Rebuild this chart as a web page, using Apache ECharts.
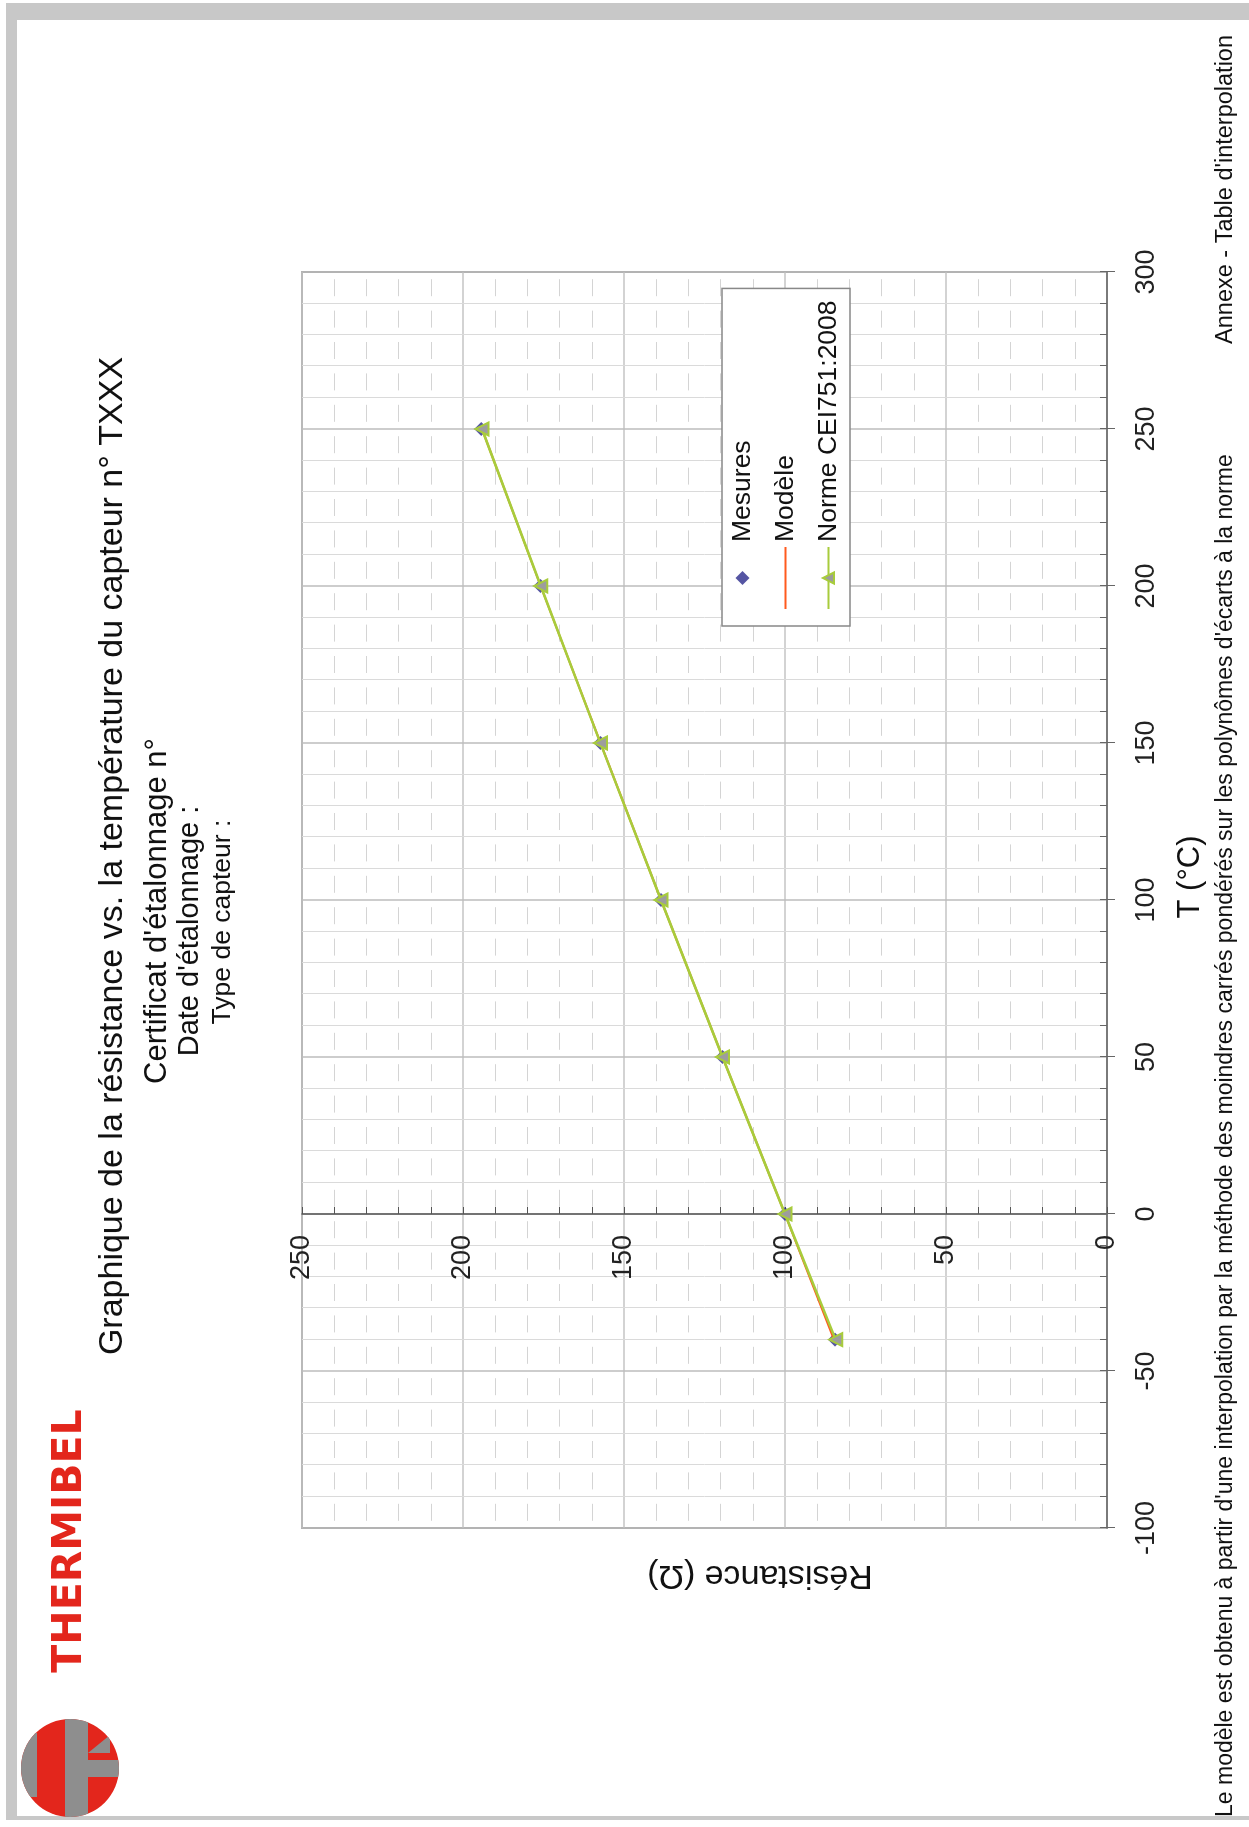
<!DOCTYPE html>
<html>
<head>
<meta charset="utf-8">
<script src="https://cdn.jsdelivr.net/npm/echarts@6/dist/echarts.min.js"></script>
<style>
html,body{margin:0;padding:0;background:#fff;}
body{width:1249px;height:1827px;overflow:hidden;position:relative;}
#chart{position:absolute;left:0;top:0;width:1827px;height:1249px;transform-origin:0 0;transform:translate(0px,1827px) rotate(-90deg);}
.band{position:absolute;background:#c8c8c8;z-index:5;}
#logo{position:absolute;left:0;top:1700px;z-index:6;}
</style>
</head>
<body>
<div id="chart"></div>
<div class="band" style="left:6px;top:3px;width:1243px;height:17px;"></div>
<div class="band" style="left:6px;top:3px;width:11px;height:1817px;"></div>
<div class="band" style="left:6px;top:1816px;width:1243px;height:4px;"></div>
<svg id="logo" width="140" height="127" viewBox="0 1700 140 127">
  <defs><clipPath id="cc"><circle cx="70" cy="1768" r="49"/></clipPath></defs>
  <circle cx="70" cy="1768" r="49" fill="#e3261c"/>
  <g clip-path="url(#cc)" fill="#8e8e8e">
    <rect x="18" y="1733" width="19" height="64"/>
    <rect x="65" y="1715" width="23" height="106"/>
    <rect x="88" y="1760" width="35" height="17"/>
    <polygon points="88,1753 110,1735 110,1753"/>
  </g>
</svg>
<script>
// ---- data ----
const temperatures = [-40, 0, 50, 100, 150, 200, 250];
const mesures      = [84.5, 100.0, 119.4, 138.5, 157.3, 175.9, 194.3];
const modele       = [84.8, 100.0, 119.4, 138.5, 157.3, 175.9, 194.1];
const norme        = [84.27, 100.0, 119.40, 138.51, 157.33, 175.86, 194.10];
const tempTicks = [-100, -50, 0, 50, 100, 150, 200, 250, 300];
const resTicks  = [0, 50, 100, 150, 200, 250];
const seriesNames = ['Mesures', 'Modèle', 'Norme CEI751:2008'];

const FONT = 'Liberation Sans, Arial, sans-serif';
const pairs = arr => temperatures.map((t, i) => [t, arr[i]]);
const tMin = tempTicks[0], tMax = tempTicks[tempTicks.length - 1], tStep = tempTicks[1] - tempTicks[0];
const rMin = resTicks[0], rMax = resTicks[resTicks.length - 1], rStep = resTicks[1] - resTicks[0];

const GRID = {left: 299, right: 272, top: 302, bottom: 142};
const plotW = 1827 - GRID.left - GRID.right;
const zeroOffset = -plotW * (0 - tMin) / (tMax - tMin); // y axis sits on T = 0

const chart = echarts.init(document.getElementById('chart'), null, {renderer: 'canvas', width: 1827, height: 1249});
chart.setOption({
  backgroundColor: '#ffffff',
  animation: false,
  textStyle: {fontFamily: FONT},
  grid: Object.assign({show: true, borderColor: '#777', borderWidth: 1.5, backgroundColor: 'transparent'}, GRID),
  legend: {
    orient: 'vertical', left: 1201, top: 722,
    padding: [7, 12, 8, 16], itemGap: 16, itemWidth: 62, itemHeight: 14,
    borderColor: '#888', borderWidth: 1.5, backgroundColor: '#fff',
    textStyle: {fontSize: 26.5, color: '#111', fontFamily: FONT},
    data: [
      {name: seriesNames[0], icon: 'path://M0,-1L1,0L0,1L-1,0Z'},
      {name: seriesNames[1], icon: 'path://M0,0L31,0L31,1L0,1Z'},
      {name: seriesNames[2]}
    ]
  },
  xAxis: [{
    type: 'value', min: tMin, max: tMax, interval: tStep,
    axisLine: {show: true, lineStyle: {color: '#666', width: 1.5}},
    axisTick: {show: true, inside: true, length: 7, lineStyle: {color: '#666'}},
    minorTick: {show: true, splitNumber: 5, length: 7, lineStyle: {color: '#666'}},
    splitLine: {show: true, lineStyle: {color: '#bdbdbd', width: 1.5}},
    minorSplitLine: {show: true, lineStyle: {color: '#dadada', width: 1}},
    axisLabel: {fontSize: 27, color: '#222', margin: 26, fontFamily: FONT}
  }, {
    type: 'value', min: tMin, max: tMax, interval: tStep, position: 'bottom', offset: 0,
    axisLine: {show: false},
    axisTick: {show: true, inside: false, length: 8, lineStyle: {color: '#666'}},
    axisLabel: {show: false}, splitLine: {show: false}
  }],
  yAxis: {
    type: 'value', min: rMin, max: rMax, interval: rStep, position: 'left', offset: zeroOffset,
    axisLine: {show: true, onZero: false, lineStyle: {color: '#555', width: 1.5}},
    axisTick: {show: true, inside: true, length: 7, lineStyle: {color: '#555'}},
    minorTick: {show: true, splitNumber: 5, length: 7, lineStyle: {color: '#555'}},
    splitLine: {show: true, lineStyle: {color: '#c4c4c4', width: 1.5}},
    minorSplitLine: {show: true, lineStyle: {color: '#d4d4d4', width: 1, type: [17, 14.4], dashOffset: 24.2}},
    axisLabel: {fontSize: 27, color: '#222', margin: 21, fontFamily: FONT}
  },
  series: [{
    name: seriesNames[0], type: 'scatter', data: pairs(mesures),
    symbol: 'diamond', symbolSize: 14, itemStyle: {color: '#2b2a8c'}, z: 2
  }, {
    name: seriesNames[1], type: 'line', data: pairs(modele), symbol: 'none',
    lineStyle: {color: '#ff5a1e', width: 2}, itemStyle: {color: '#ff5a1e'}, z: 3
  }, {
    name: seriesNames[2], type: 'line', data: pairs(norme),
    symbol: 'triangle', symbolSize: 13, showSymbol: true,
    lineStyle: {color: '#a8cc3c', width: 2.5},
    itemStyle: {color: '#9d9d9d', borderColor: '#a8cc3c', borderWidth: 2}, z: 4
  }],
  graphic: [
    {type: 'text', x: 971, y: 113, style: {text: 'Graphique de la résistance vs. la température du capteur n° TXXX', font: '34px ' + FONT, fill: '#111', textAlign: 'center', textVerticalAlign: 'middle'}},
    {type: 'text', x: 916, y: 157, style: {text: "Certificat d'étalonnage n°", font: '31px ' + FONT, fill: '#111', textAlign: 'center', textVerticalAlign: 'middle'}},
    {type: 'text', x: 896, y: 190, style: {text: "Date d'étalonnage :", font: '29px ' + FONT, fill: '#111', textAlign: 'center', textVerticalAlign: 'middle'}},
    {type: 'text', x: 905, y: 223, style: {text: 'Type de capteur :', font: '26.5px ' + FONT, fill: '#111', textAlign: 'center', textVerticalAlign: 'middle'}},
    {type: 'text', x: 286, y: 70, style: {text: 'THERMIBEL', font: 'bold 41px DejaVu Sans', fill: '#e3261c', textAlign: 'center', textVerticalAlign: 'middle'}},
    {type: 'text', x: 950, y: 1190, style: {text: 'T (°C)', font: '31px ' + FONT, fill: '#111', textAlign: 'center', textVerticalAlign: 'middle'}},
    {type: 'text', x: 252, y: 760, rotation: Math.PI / 2, style: {text: 'Résistance (Ω)', font: '34px ' + FONT, fill: '#111', textAlign: 'center', textVerticalAlign: 'middle'}},
    {type: 'text', x: 10, y: 1226, style: {text: "Le modèle est obtenu à partir d'une interpolation par la méthode des moindres carrés pondérés sur les polynômes d'écarts à la norme", font: '23px ' + FONT, fill: '#111', textAlign: 'left', textVerticalAlign: 'middle'}},
    {type: 'text', x: 1792, y: 1226, style: {text: "Annexe - Table d'interpolation", font: '23.5px ' + FONT, fill: '#111', textAlign: 'right', textVerticalAlign: 'middle'}}
  ]
});
</script>
</body>
</html>
